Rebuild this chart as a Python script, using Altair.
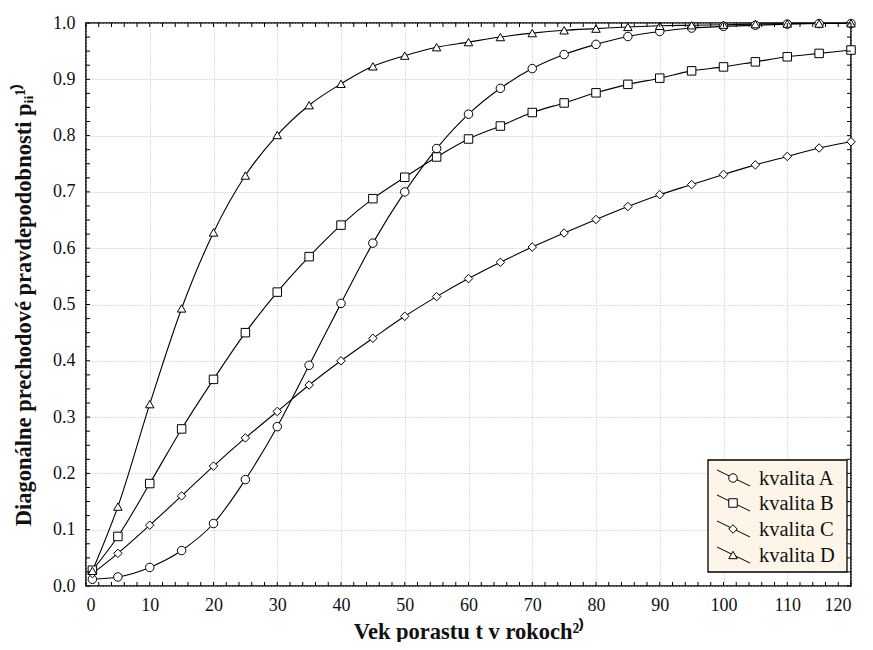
import altair as alt
import pandas as pd
import numpy as np

# ---- data ----
t = [1, 5, 10, 15, 20, 25, 30, 35, 40, 45, 50, 55, 60, 65, 70, 75, 80, 85, 90, 95, 100, 105, 110, 115, 120]
kvalita_A = [0.012, 0.016, 0.033, 0.063, 0.111, 0.189, 0.283, 0.392, 0.502, 0.609, 0.700, 0.777, 0.838, 0.884,
             0.919, 0.944, 0.962, 0.976, 0.985, 0.991, 0.994, 0.996, 0.998, 0.999, 0.999]
kvalita_B = [0.028, 0.088, 0.182, 0.279, 0.367, 0.450, 0.522, 0.585, 0.641, 0.688, 0.726, 0.762, 0.794, 0.817,
             0.841, 0.858, 0.876, 0.891, 0.902, 0.915, 0.922, 0.931, 0.940, 0.946, 0.952]
kvalita_C = [0.022, 0.058, 0.108, 0.160, 0.213, 0.263, 0.310, 0.357, 0.400, 0.440, 0.479, 0.514, 0.546, 0.575,
             0.602, 0.627, 0.651, 0.674, 0.695, 0.713, 0.731, 0.748, 0.763, 0.778, 0.789]
kvalita_D = [0.027, 0.141, 0.323, 0.493, 0.628, 0.729, 0.801, 0.854, 0.892, 0.923, 0.942, 0.957, 0.966, 0.975,
             0.982, 0.987, 0.990, 0.993, 0.995, 0.996, 0.997, 0.998, 0.999, 0.999, 0.9995]
series_names = ["kvalita A", "kvalita B", "kvalita C", "kvalita D"]
shapes = ["circle", "square", "diamond", "triangle-up"]
x_ticks = [0, 10, 20, 30, 40, 50, 60, 70, 80, 90, 100, 110, 120]
y_ticks = [0.0, 0.1, 0.2, 0.3, 0.4, 0.5, 0.6, 0.7, 0.8, 0.9, 1.0]

rows = []
for name, vals in zip(series_names, [kvalita_A, kvalita_B, kvalita_C, kvalita_D]):
    for ti, v in zip(t, vals):
        rows.append({"t": ti, "p": v, "s": name})
df = pd.DataFrame(rows)

W, H = 765, 563
FONT = "Liberation Serif, Times New Roman, serif"

xs = alt.Scale(domain=[0, 120], nice=False, zero=False)
ys = alt.Scale(domain=[0, 1], nice=False)
shape_scale = alt.Scale(domain=series_names, range=shapes)

base = alt.Chart(df)

X = alt.X("t:Q", scale=xs,
          axis=alt.Axis(values=x_ticks, title="Vek porastu t v rokoch²⁾", format="d",
                        grid=True, gridColor="#bdbdbd", gridDash=[1, 2], gridWidth=1,
                        ticks=False, domain=False, labelPadding=10, titlePadding=6,
                        labelFont=FONT, labelFontSize=18, labelColor="#111",
                        titleFont=FONT, titleFontSize=22.5, titleFontWeight="bold", titleColor="#111"))
Y = alt.Y("p:Q", scale=ys,
          axis=alt.Axis(values=y_ticks, title="Diagonálne prechodové pravdepodobnosti pᵢᵢ¹⁾", format=".1f",
                        grid=True, gridColor="#bdbdbd", gridDash=[1, 2], gridWidth=1,
                        ticks=False, domain=False, labelPadding=11, titlePadding=17,
                        labelFont=FONT, labelFontSize=18, labelColor="#111",
                        titleFont=FONT, titleFontSize=22.5, titleFontWeight="bold", titleColor="#111"))

lines = base.mark_line(color="black", strokeWidth=1.1, interpolate="monotone").encode(
    x=X, y=Y, detail="s:N")

points = base.mark_point(filled=False, fill="white", fillOpacity=1, stroke="black", strokeWidth=1, size=72).encode(
    x=alt.X("t:Q", scale=xs), y=alt.Y("p:Q", scale=ys),
    shape=alt.Shape("s:N", scale=shape_scale, legend=None))

# inward ticks on all four sides
xminor = pd.DataFrame({"v": np.arange(0, 121, 2)})
yminor = pd.DataFrame({"v": np.round(np.arange(0, 1.0001, 0.025), 3)})
tick_len = 4
xb = alt.Chart(xminor).mark_rule(color="black", strokeWidth=1).encode(
    x=alt.X("v:Q", scale=xs), y=alt.value(H), y2=alt.value(H - tick_len))
xt = alt.Chart(xminor).mark_rule(color="black", strokeWidth=1).encode(
    x=alt.X("v:Q", scale=xs), y=alt.value(0), y2=alt.value(tick_len))
yl = alt.Chart(yminor).mark_rule(color="black", strokeWidth=1).encode(
    y=alt.Y("v:Q", scale=ys), x=alt.value(0), x2=alt.value(tick_len))
yr = alt.Chart(yminor).mark_rule(color="black", strokeWidth=1).encode(
    y=alt.Y("v:Q", scale=ys), x=alt.value(W), x2=alt.value(W - tick_len))

# custom legend (pixel layout inside the plot area)
one = pd.DataFrame({"a": [0]})
LX0, LX1, LY0, LY1 = 622, 761, 437, 549
row_y = [455, 480, 506, 532]
legend_layers = [alt.Chart(one).mark_rect(fill="#fdf6e8", stroke="black", strokeWidth=1.3).encode(
    x=alt.value(LX0), x2=alt.value(LX1), y=alt.value(LY0), y2=alt.value(LY1))]
for name, shp, ry in zip(series_names, shapes, row_y):
    legend_layers.append(alt.Chart(one).mark_rule(color="black", strokeWidth=1).encode(
        x=alt.value(631), x2=alt.value(664), y=alt.value(ry - 8), y2=alt.value(ry + 8)))
    legend_layers.append(alt.Chart(one).mark_point(shape=shp, filled=False, fill="white", fillOpacity=1,
                                                   stroke="black", strokeWidth=1, size=72).encode(
        x=alt.value(647), y=alt.value(ry)))
    legend_layers.append(alt.Chart(one).mark_text(text=name, align="left", baseline="middle", font=FONT,
                                                  fontSize=20.5, color="#111").encode(
        x=alt.value(673), y=alt.value(ry + 1)))

chart = alt.layer(lines, points, xb, xt, yl, yr, *legend_layers).properties(
    width=W, height=H, background="white",
    autosize=alt.AutoSizeParams(type="none"),
    padding={"left": 78, "top": 15, "right": 14, "bottom": 56}
).configure_view(stroke="black", strokeWidth=1.6).configure_axis(
    labelFont=FONT, titleFont=FONT)

chart.save("out.html", embed_options={"renderer": "svg", "actions": False})
